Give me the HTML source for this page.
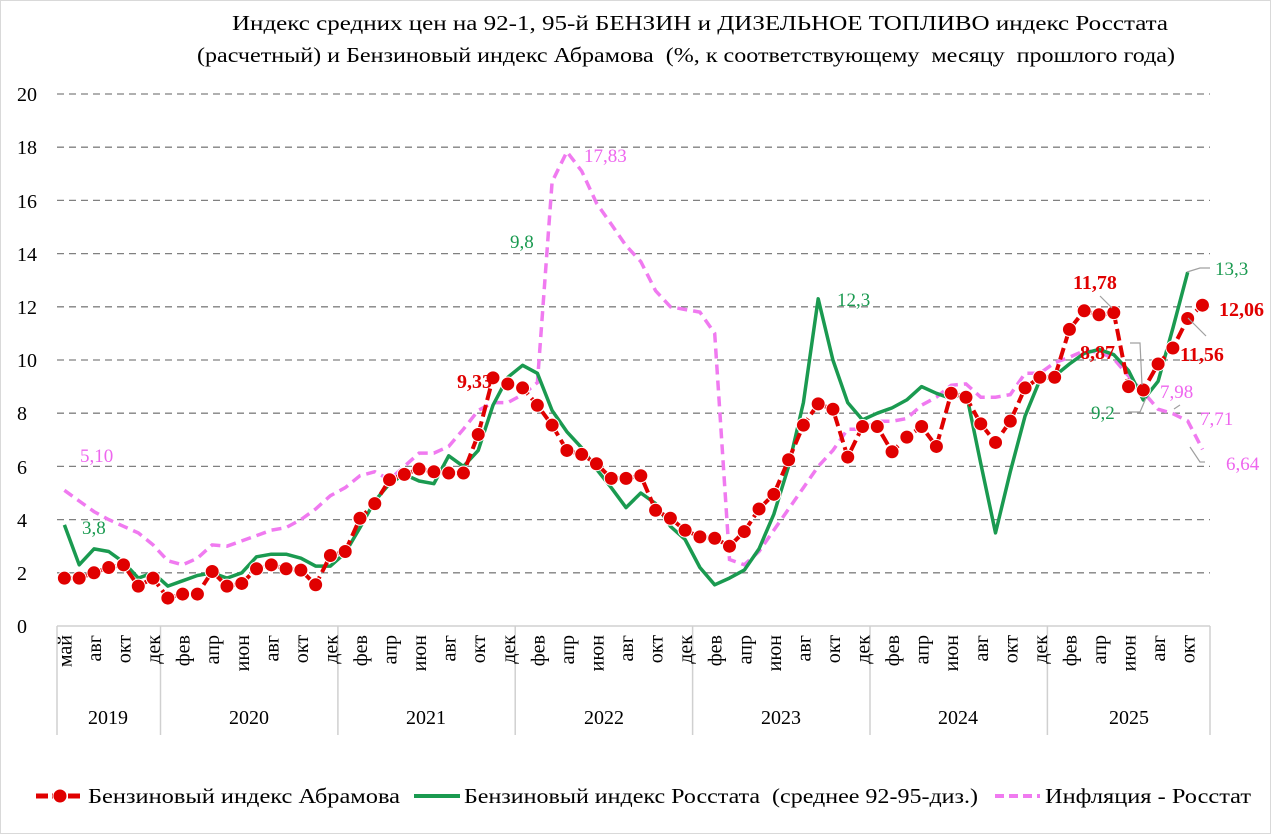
<!DOCTYPE html>
<html><head><meta charset="utf-8"><style>
html,body{margin:0;padding:0;background:#fff}
svg{display:block}
text{font-family:"Liberation Serif",serif;fill:#000}
</style></head><body>
<svg id="s" width="1280" height="836" viewBox="0 0 1280 836" xmlns="http://www.w3.org/2000/svg">
<rect x="0.5" y="0.5" width="1270" height="833" fill="#fff" stroke="#d9d9d9"/>
<text x="232" y="30" font-size="21" textLength="936" lengthAdjust="spacingAndGlyphs">Индекс средних цен на 92-1, 95-й БЕНЗИН и ДИЗЕЛЬНОЕ ТОПЛИВО индекс Росстата</text>
<text x="197" y="62" font-size="21" textLength="978" lengthAdjust="spacingAndGlyphs" xml:space="preserve">(расчетный) и Бензиновый индекс Абрамова  (%, к соответствующему  месяцу  прошлого года)</text>
<g id="grid" stroke="#808080" stroke-width="1.3" stroke-dasharray="7,5"></g>
<g font-size="20" text-anchor="middle">
<text x="22" y="633">0</text><text x="22" y="580">2</text><text x="22" y="527">4</text><text x="22" y="474">6</text><text x="22" y="420">8</text><text x="27" y="367">10</text><text x="27" y="314">12</text><text x="27" y="261">14</text><text x="27" y="208">16</text><text x="27" y="154">18</text><text x="27" y="101">20</text>
</g>
<line x1="57" y1="626" x2="1210" y2="626" stroke="#d0d0d0" stroke-width="1.5"/>
<g id="yrs" stroke="#d0d0d0" stroke-width="1.5"></g>
<g id="mon" font-size="20"></g>
<g font-size="20" text-anchor="middle">
<text x="108" y="724">2019</text><text x="249" y="724">2020</text><text x="426" y="724">2021</text><text x="604" y="724">2022</text><text x="781" y="724">2023</text><text x="958" y="724">2024</text><text x="1129" y="724">2025</text>
</g>
<g id="series"></g>
<g stroke="#a0a0a0" stroke-width="1.2" fill="none">
<polyline points="1187,272 1200,268 1210,268"/>
<polyline points="1100,296 1112,308"/>
<polyline points="1188,318 1206,336"/>
<polyline points="1130,343 1140,343 1142,385"/>
<polyline points="1128,412 1140,412 1146,398"/>
<polyline points="1174,409 1180,405"/>
<polyline points="1190,447 1200,462 1205,462"/>
</g>
<g font-size="19">
<text x="82" y="534" style="fill:#1a9a50">3,8</text>
<text x="80" y="462" style="fill:#ee66ee">5,10</text>
<text x="510" y="248" style="fill:#1a9a50">9,8</text>
<text x="584" y="162" style="fill:#ee66ee">17,83</text>
<text x="837" y="306" style="fill:#1a9a50">12,3</text>
<text x="1215" y="275" style="fill:#1a9a50">13,3</text>
<text x="1091" y="419" style="fill:#1a9a50">9,2</text>
<text x="1160" y="398" style="fill:#ee66ee">7,98</text>
<text x="1200" y="425" style="fill:#ee66ee">7,71</text>
<text x="1226" y="470" style="fill:#ee66ee">6,64</text>
</g>
<g font-size="20" font-weight="bold">
<text x="457" y="388" style="fill:#e00000">9,33</text>
<text x="1073" y="289" style="fill:#e00000">11,78</text>
<text x="1080" y="359" style="fill:#e00000">8,87</text>
<text x="1219" y="316" style="fill:#e00000">12,06</text>
<text x="1180" y="361" style="fill:#e00000">11,56</text>
</g>
<g>
<line x1="36" y1="796" x2="84" y2="796" stroke="#e00000" stroke-width="5" stroke-dasharray="12,4"/>
<circle cx="60" cy="796" r="7" fill="#e00000" stroke="#fff" stroke-width="1"/>
<text x="88" y="803" font-size="21" textLength="312" lengthAdjust="spacingAndGlyphs">Бензиновый индекс Абрамова</text>
<line x1="414" y1="796" x2="460" y2="796" stroke="#1a9a50" stroke-width="4"/>
<text x="464" y="803" font-size="21" textLength="514" lengthAdjust="spacingAndGlyphs" xml:space="preserve">Бензиновый индекс Росстата  (среднее 92-95-диз.)</text>
<line x1="995" y1="796" x2="1040" y2="796" stroke="#f07af0" stroke-width="4" stroke-dasharray="9,5"/>
<text x="1045" y="803" font-size="21" textLength="206" lengthAdjust="spacingAndGlyphs">Инфляция - Росстат</text>
</g>
</svg>
<script>
var NS="http://www.w3.org/2000/svg";
function el(p,t,a){var e=document.createElementNS(NS,t);for(var k in a)e.setAttribute(k,a[k]);p.appendChild(e);return e;}
var s=14.78,x0=57;
function X(i){return x0+s/2+s*i;}
function Y(v){return 626-v*26.6;}
var g=document.getElementById("grid");
for(var v=2;v<=20;v+=2)el(g,"line",{x1:57,x2:1210,y1:Y(v),y2:Y(v)});
var yrs=document.getElementById("yrs");
[57,160.5,337.9,515.2,692.6,870,1047.4,1210].forEach(function(x){el(yrs,"line",{x1:x,x2:x,y1:626,y2:735});});
var mon=document.getElementById("mon");
var lab=["май","авг","окт","дек"];var m=["фев","апр","июн","авг","окт","дек"];
for(var y=0;y<5;y++)lab=lab.concat(m);
lab=lab.concat(["фев","апр","июн","авг","окт"]);
lab.forEach(function(t,k){var x=X(2*k)+7;var e=el(mon,"text",{x:0,y:0,transform:"translate("+x+",635) rotate(-90)","text-anchor":"end"});e.textContent=t;});
var red=[1.8,1.8,2.0,2.2,2.3,1.5,1.8,1.05,1.2,1.2,2.05,1.5,1.6,2.15,2.3,2.15,2.1,1.55,2.65,2.8,4.05,4.6,5.5,5.7,5.9,5.8,5.75,5.75,7.2,9.33,9.1,8.95,8.3,7.55,6.6,6.45,6.1,5.55,5.55,5.65,4.35,4.05,3.6,3.35,3.3,3.0,3.55,4.4,4.95,6.25,7.55,8.35,8.15,6.35,7.5,7.5,6.55,7.1,7.5,6.75,8.75,8.6,7.6,6.9,7.7,8.95,9.35,9.35,11.15,11.85,11.7,11.78,9.0,8.87,9.85,10.45,11.56,12.06];
var green=[3.8,2.3,2.9,2.8,2.4,1.8,2.0,1.5,1.7,1.9,2.0,1.8,2.0,2.6,2.7,2.7,2.55,2.25,2.25,2.75,3.7,4.7,5.35,5.7,5.45,5.35,6.4,6.0,6.6,8.3,9.35,9.8,9.5,8.1,7.3,6.7,5.9,5.2,4.45,5.0,4.6,3.75,3.25,2.2,1.55,1.8,2.1,2.9,4.2,6.0,8.4,12.3,10.0,8.4,7.75,8.0,8.2,8.5,9.0,8.75,8.55,8.8,6.1,3.5,5.8,7.9,9.25,9.4,9.85,10.25,10.4,10.2,9.6,8.5,9.2,11.2,13.3];
var pink=[5.1,4.7,4.3,4.0,3.75,3.5,3.05,2.45,2.3,2.55,3.05,3.0,3.2,3.4,3.6,3.7,4.0,4.4,4.9,5.2,5.65,5.8,5.5,6.0,6.5,6.5,6.75,7.4,8.1,8.4,8.4,8.7,9.15,16.7,17.83,17.1,15.9,15.1,14.3,13.7,12.6,12.0,11.9,11.8,11.0,2.5,2.3,2.8,3.6,4.4,5.2,6.0,6.6,7.4,7.4,7.7,7.7,7.8,8.3,8.6,9.05,9.1,8.6,8.6,8.7,9.5,9.5,9.9,10.1,10.35,10.3,10.05,9.4,8.8,8.15,7.98,7.71,6.64];
function pts(a){return a.map(function(v,i){return X(i).toFixed(1)+","+Y(v).toFixed(1);}).join(" ");}
var S=document.getElementById("series");
el(S,"polyline",{points:pts(pink),fill:"none",stroke:"#f07af0","stroke-width":3.5,"stroke-dasharray":"10,6"});
el(S,"polyline",{points:pts(green),fill:"none",stroke:"#1a9a50","stroke-width":3.5,"stroke-linejoin":"round"});
el(S,"polyline",{points:pts(red),fill:"none",stroke:"#e00000","stroke-width":4,"stroke-dasharray":"12,5"});
red.forEach(function(v,i){el(S,"circle",{cx:X(i),cy:Y(v),r:7,fill:"#e00000",stroke:"#fff","stroke-width":1});});
</script>
</body></html>
